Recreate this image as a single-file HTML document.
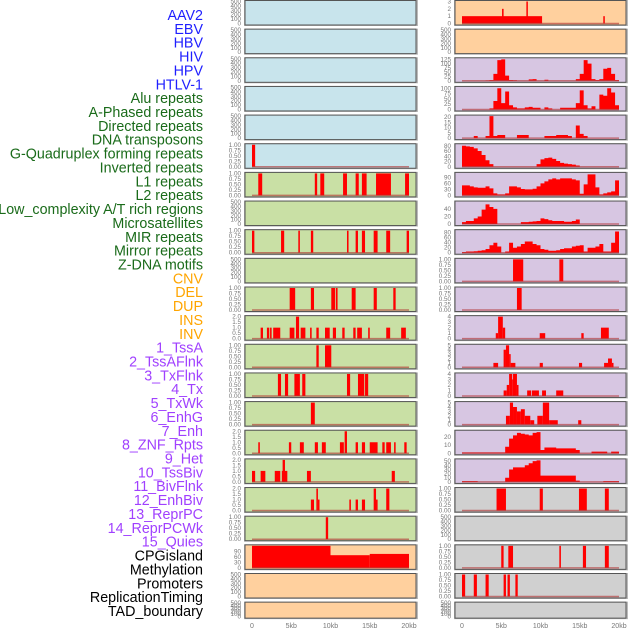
<!DOCTYPE html>
<html><head><meta charset="utf-8">
<style>
html,body{margin:0;padding:0;background:#fff;}
svg{display:block;font-family:"Liberation Sans",sans-serif;}
</style></head>
<body>
<svg id="chart" width="630" height="630" viewBox="0 0 630 630" xmlns="http://www.w3.org/2000/svg"></svg>
<script>
// ---- track labels ----
const trackLabels = ["AAV2","EBV","HBV","HIV","HPV","HTLV-1","Alu repeats","A-Phased repeats","Directed repeats","DNA transposons","G-Quadruplex forming repeats","Inverted repeats","L1 repeats","L2 repeats","Low_complexity A/T rich regions","Microsatellites","MIR repeats","Mirror repeats","Z-DNA motifs","CNV","DEL","DUP","INS","INV","1_TssA","2_TssAFlnk","3_TxFlnk","4_Tx","5_TxWk","6_EnhG","7_Enh","8_ZNF_Rpts","9_Het","10_TssBiv","11_BivFlnk","12_EnhBiv","13_ReprPC","14_ReprPCWk","15_Quies","CPGisland","Methylation","Promoters","ReplicationTiming","TAD_boundary"];
const labelGroups = [6,13,5,15,5];
const groupColors = ["#1f1fff","#1a6b1a","#ffa500","#a040ff","#000000"];
const xTickValues = [0,5,10,15,20];
const xTickLabels = ["0","5kb","10kb","15kb","20kb"];

// ---- tick label sets ----
const ticksEmpty = ["0","100","200","300","400","500"];
const ticksUnit = ["0.00","0.25","0.50","0.75","1.00"];
const ticksTwo = ["0.0","0.5","1.0","1.5","2.0"];

// ---- left column bar data [startKb, endKb, value] ----
const leftRow5 = [[0,0.4,1]];
const leftRow6 = [[0.8,1.3,1],[8.0,8.3,1],[8.7,9.2,1],[11.6,12.1,1],[13.2,13.6,1],[14.0,14.6,1],[15.8,17.7,1],[19.5,20,1]];
const leftRow8 = [[0,0.3,1],[3.7,4.1,1],[5.9,6.1,1],[7.5,7.8,1],[12.1,12.3,1],[13.2,13.5,1],[14.0,14.4,1],[15.5,16.0,1],[17.1,17.6,1],[19.7,20,1]];
const leftRow10 = [[4.8,5.5,1],[7.5,7.9,1],[10.1,10.6,1],[10.7,10.9,1],[12.7,13.2,1],[15.5,15.9,1],[18.0,18.3,1]];
const leftRow11 = [[1.1,1.4,1],[1.9,2.2,1],[2.3,2.5,1],[2.7,3.6,1],[4.8,5.4,1],[5.6,6.0,2],[6.2,6.8,1],[7.4,7.6,1],[8.2,8.5,1],[9.3,9.9,1],[10.3,10.7,1],[11.5,11.8,1],[12.9,13.2,1],[13.4,14.0,1],[14.8,15.0,1],[17.1,17.6,1],[19.0,19.6,1]];
const leftRow12 = [[8.2,8.5,1],[9.3,10.1,1]];
const leftRow13 = [[3.3,3.7,1],[4.2,4.6,1],[5.4,6.1,1],[6.4,6.8,1],[12.1,12.5,1],[13.5,14.3,1],[14.4,14.8,1]];
const leftRow14 = [[7.5,8.0,1]];
const leftRow15 = [[0.8,1.0,1],[4.7,5.0,1],[6.1,6.6,1],[8.0,8.4,1],[8.9,9.4,1],[11.2,11.7,1],[11.8,12.1,2],[13.2,13.5,1],[14.0,14.4,1],[15.0,16.0,1],[16.6,16.9,1],[17.1,17.7,1],[18.1,18.3,1],[19.4,19.7,1]];
const leftRow16 = [[0,0.4,1],[1.1,1.7,1],[2.9,3.6,1],[3.8,4.5,1],[3.9,4.2,2],[7.0,7.5,1],[17.8,18.2,1]];
const leftRow17 = [[7.5,7.9,1],[8.2,8.4,2],[8.4,8.6,1],[12.4,12.6,1],[13.2,13.5,1],[14.0,14.4,1],[15.5,15.8,2],[15.8,16.0,1],[17.1,17.5,2]];
const leftRow18 = [[9.4,9.7,1]];
const leftRow19 = [[0,10,120],[10,15,69],[15,20,76]];

// ---- right column data ----
const rightRow0 = [[0,10.2,1],[5.1,5.3,2],[8.2,8.3,3],[18.0,18.1,1]];
const rightRow2 = [0,0,0,0,0,0,2,5,40,120,125,30,5,3,0,0,0,8,10,0,0,6,0,0,0,0,0,0,0,10,40,120,100,10,5,10,70,75,40,5];
const rightRow3 = [0,0,0,0,0,0,0,5,40,100,30,85,20,10,5,5,10,12,8,8,0,10,5,0,0,8,8,8,8,30,90,20,5,15,0,70,65,100,80,20];
const rightRow4 = [0,0,0,2,0,0,2,21,2,3,3,0,0,0,3,3,3,0,0,0,0,2,2,2,3,3,3,2,0,12,4,2,0,0,0,0,0,0,0,0];
const rightRow5 = [80,78,76,70,60,45,25,10,0,0,0,0,0,0,0,0,0,0,0,10,28,33,35,30,22,15,12,10,8,5,0,0,0,0,0,0,0,0,0,0];
const rightRow6 = [50,50,45,40,38,38,45,35,10,5,5,10,45,45,40,32,30,30,33,45,60,70,80,85,80,85,85,85,80,75,8,55,105,105,40,5,10,15,20,75];
const rightRow7 = [5,8,8,15,20,38,52,45,40,0,0,0,0,0,0,5,5,6,7,8,15,13,10,8,8,8,6,6,8,12,0,0,0,0,0,0,0,0,0,0];
const rightRow8 = [3,5,5,6,8,10,15,30,40,25,0,5,40,20,25,35,45,45,35,30,15,12,8,8,10,15,18,18,25,28,30,5,20,20,25,35,5,5,40,85];
const rightRow9 = [[6.5,7.8,1],[12.4,12.9,1]];
const rightRow10 = [[7.0,7.6,1]];
const rightRow11 = [[4.3,4.6,1],[4.6,5.2,4],[5.2,5.5,2],[9.9,10.6,1],[15.2,15.5,1],[17.7,18.7,2]];
const rightRow12 = [[4.0,4.6,1],[5.3,5.6,4],[5.6,6.0,5],[6.0,6.2,3],[6.2,6.8,1],[9.9,10.3,1],[14.9,15.3,1],[18.1,18.6,1],[18.6,19.1,2],[19.1,19.3,1]];
const rightRow13 = [[5.3,5.7,1],[5.7,6.0,2],[6.0,6.4,4],[6.4,6.5,3],[6.5,7.0,4],[7.0,7.2,2],[8.3,8.8,1],[8.9,9.8,1],[10.2,10.7,1],[12.0,12.9,1]];
const rightRow14 = [[5.6,6.1,2],[6.1,6.5,5],[6.5,7.0,4],[7.0,7.5,3],[7.5,8.0,3.5],[8.0,8.7,2],[8.7,9.2,1],[9.6,10.3,2],[10.3,11.1,5],[11.1,12.2,1],[14.8,15.2,1]];
const rightRow15 = [1,1,1,1,1,1,1,1,1,1,1,8,18,22,25,24,23,22,25,26,4,7,7,7,6,6,6,6,6,4,0,0,0,2,2,2,2,0,2,2];
const rightRow16 = [2,2,2,2,0,0,0,0,0,0,0,10,30,35,35,35,40,45,50,52,15,15,15,15,15,15,15,15,15,3,0,0,0,0,0,0,2,2,2,2];
const rightRow17 = [[4.4,5.6,1],[9.9,10.3,1],[14.9,15.9,1],[18.2,18.7,1]];
const rightRow19 = [[5.0,5.3,1],[5.9,6.5,1],[12.4,12.6,1],[15.4,15.8,1],[18.2,18.7,1]];
const rightRow20 = [[0,0.4,1],[1.5,1.9,1],[3.0,3.4,1],[5.3,5.6,1],[5.8,6.1,1],[6.8,7.1,1]];

const C = {blue:"#c8e4ec",green:"#c9e0a5",orange:"#ffd09e",purple:"#d7c6e2",gray:"#d0d0d0"};

const leftPanels = [
 [C.blue,"none",null,500,ticksEmpty],[C.blue,"none",null,500,ticksEmpty],[C.blue,"none",null,500,ticksEmpty],
 [C.blue,"none",null,500,ticksEmpty],[C.blue,"none",null,500,ticksEmpty],[C.blue,"bars",leftRow5,1,ticksUnit],
 [C.green,"bars",leftRow6,1,ticksUnit],[C.green,"none",null,500,ticksEmpty],[C.green,"bars",leftRow8,1,ticksUnit],
 [C.green,"none",null,500,ticksEmpty],[C.green,"bars",leftRow10,1,ticksUnit],[C.green,"bars",leftRow11,2,ticksTwo],
 [C.green,"bars",leftRow12,1,ticksUnit],[C.green,"bars",leftRow13,1,ticksUnit],[C.green,"bars",leftRow14,1,ticksUnit],
 [C.green,"bars",leftRow15,2,ticksTwo],[C.green,"bars",leftRow16,2,ticksTwo],[C.green,"bars",leftRow17,2,ticksTwo],
 [C.green,"bars",leftRow18,1,ticksUnit],[C.orange,"bars",leftRow19,120,["0","30","60","90"]],
 [C.orange,"none",null,500,ticksEmpty],[C.orange,"none",null,500,ticksEmpty]
];
const rightPanels = [
 [C.orange,"bars",rightRow0,3,["0","1","2","3"]],[C.orange,"none",null,500,ticksEmpty],
 [C.purple,"area",rightRow2,128,["0","25","50","75","100","125"]],[C.purple,"area",rightRow3,104,["0","25","50","75","100"]],
 [C.purple,"area",rightRow4,21,["0","5","10","15","20"]],[C.purple,"area",rightRow5,84,["0","20","40","60","80"]],
 [C.purple,"area",rightRow6,110,["0","30","60","90"]],[C.purple,"area",rightRow7,58,["0","20","40"]],
 [C.purple,"area",rightRow8,88,["0","20","40","60","80"]],[C.purple,"bars",rightRow9,1,ticksUnit],
 [C.purple,"bars",rightRow10,1,ticksUnit],[C.purple,"bars",rightRow11,4,["0","1","2","3","4"]],
 [C.purple,"bars",rightRow12,5,["0","1","2","3","4","5"]],[C.purple,"bars",rightRow13,4,["0","1","2","3","4"]],
 [C.purple,"bars",rightRow14,5,["0","1","2","3","4","5"]],[C.purple,"area",rightRow15,27,["0","10","20"]],
 [C.purple,"area",rightRow16,53,["0","10","20","30","40","50"]],[C.gray,"bars",rightRow17,1,ticksUnit],
 [C.gray,"none",null,500,ticksEmpty],[C.gray,"bars",rightRow19,1,ticksUnit],
 [C.gray,"bars",rightRow20,1,ticksUnit],[C.gray,"none",null,500,ticksEmpty]
];

const svg = document.getElementById("chart");
const NS = "http://www.w3.org/2000/svg";
function mk(tag, attrs, parent){const e=document.createElementNS(NS,tag);for(const k in attrs)e.setAttribute(k,attrs[k]);(parent||svg).appendChild(e);return e;}

let li=0;
labelGroups.forEach((n,g)=>{for(let j=0;j<n;j++){
  const t=mk("text",{x:203,y:15+li*13.86+5,"text-anchor":"end","font-size":"14.3",fill:groupColors[g]});
  
  
  t.textContent=trackLabels[li];li++;}});

const PITCH=28.65;
function xScale(colX0, kb){return colX0+7+kb*7.85;}
function drawColumn(panels, x0, tickX, col){
  panels.forEach((p,i)=>{
    const top=0.5+PITCH*i, h=(i===panels.length-1)?16:24.5;
    const g=mk("g",{});
    
    
    mk("rect",{x:x0-1,y:top-0.5,width:174,height:h+1.5,fill:"#bbb"},g);
    mk("rect",{x:x0,y:top,width:171,height:h,fill:p[0],stroke:"#555","stroke-width":1},g);
    const base=top+h-1.5, ph=h-2.5;
    const yS=v=>base-Math.min(v,p[3])/p[3]*ph;
    const nt=p[4].length;
    p[4].forEach((lab,k)=>{
      const val=(p[3]===500)?k*100:(p[3]===120?k*30:null);
      let y;
      if(val!==null) y=yS(val); else y=base-(k/(nt-1))*ph*(parseFloat(p[4][nt-1])/p[3]);
      const t=mk("text",{x:tickX,y:y+2,"text-anchor":"end","font-size":"6.3",fill:"#777"},g);
      
      
      t.textContent=lab;
    });
    if(p[1]==="bars"){
      p[2].forEach(b=>{
        const xa=xScale(x0,b[0]), xb=xScale(x0,b[1]);
        const r=mk("rect",{x:xa,y:yS(b[2]),width:Math.max(1.5,xb-xa),height:base-yS(b[2]),fill:"#ff0000"},g);
        
        
      });
    } else if(p[1]==="area"){
      const n=p[2].length, w=20/n;
      let d="M"+xScale(x0,0)+","+base;
      p[2].forEach((v,k)=>{d+=" L"+xScale(x0,k*w)+","+yS(v)+" L"+xScale(x0,(k+1)*w)+","+yS(v);});
      d+=" L"+xScale(x0,20)+","+base+" Z";
      const a=mk("path",{d:d,fill:"#ff0000"},g);
      
      
    }
    if(p[1]!=="none"){
      const l=mk("line",{x1:xScale(x0,0),x2:xScale(x0,20),y1:base,y2:base,stroke:"#b03030","stroke-opacity":0.6,"stroke-width":1.5},g);
      
      
    }
  });
  xTickValues.forEach((v,k)=>{
    const t=mk("text",{x:xScale(x0,v),y:628,"text-anchor":"middle","font-size":"7",fill:"#777"});
    
    
    t.textContent=xTickLabels[k];
  });
}
drawColumn(leftPanels,245,241,"left");
drawColumn(rightPanels,455,451,"right");
</script>
</body></html>
